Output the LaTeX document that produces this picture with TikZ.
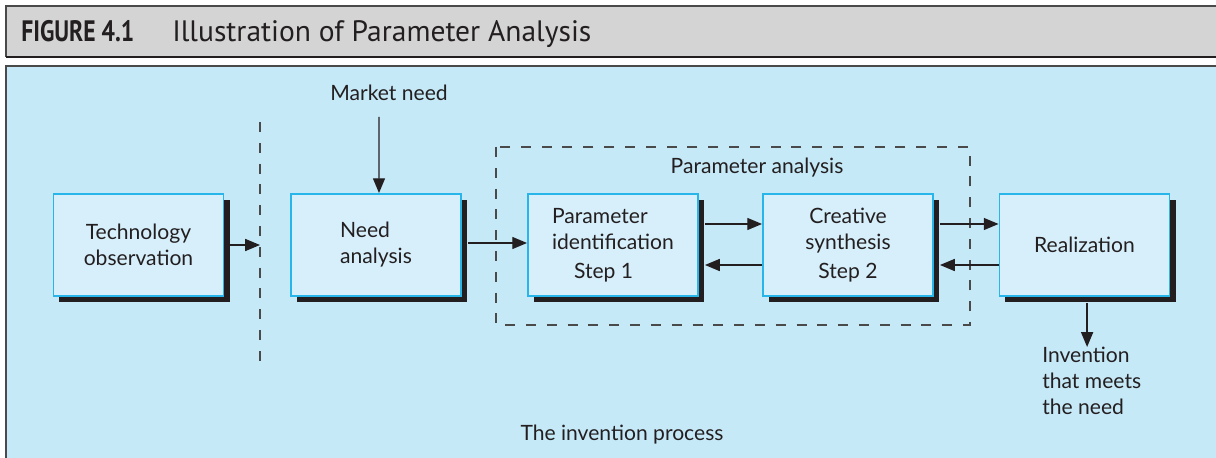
\documentclass[tikz,border=0pt]{standalone}
\usepackage{fontspec}
\setmainfont{Lato}
\newfontfamily\titlefont{PT Sans}
\usepackage{tikz}
\usetikzlibrary{arrows.meta,shadows}

\definecolor{panelblue}{HTML}{C6E9F8}
\definecolor{boxfill}{HTML}{D6EFFB}
\definecolor{boxedge}{HTML}{27B5EA}
\definecolor{titlegrey}{HTML}{D4D4D4}
\definecolor{ink}{HTML}{231F20}
\definecolor{rule}{HTML}{4A4A4A}

\tikzset{
  procbox/.style={draw=boxedge, line width=1.3pt, fill=boxfill,
    minimum width=4.25cm, minimum height=2.55cm, inner sep=0pt,
    drop shadow={shadow xshift=0.15cm, shadow yshift=-0.15cm, fill=ink, opacity=1}},
  txt/.style={text=ink, font=\fontsize{15}{18.5}\selectfont},
  arr/.style={ink, line width=1pt, -{Triangle[length=0.37cm, width=0.3cm]}},
  divide/.style={rule, line width=0.9pt, dash pattern=on 0.25cm off 0.27cm}
}

\begin{document}
\begin{tikzpicture}[x=0.025cm, y=-0.025cm]
      \useasboundingbox (0,0) rectangle (1216,458);
      % title bar
      \fill[titlegrey] (6,6) rectangle (1216,57);
      \draw[rule, line width=0.8pt] (1216,6) -- (6,6) -- (6,57);
      \draw[ink, line width=1.4pt] (6,57) -- (1216,57);
      \node[anchor=base west, inner sep=0pt, text=ink, font=\titlefont\fontsize{21}{24}\selectfont\bfseries] (fignum) at (21,42) {\scalebox{0.8}[1]{FIGURE 4.1}};
      \node[anchor=base west, inner sep=0pt, text=ink, font=\titlefont\fontsize{21}{24}\selectfont] (figtitle) at (172,42) {Illustration of Parameter Analysis};
      % panel
      \fill[panelblue] (6,66) rectangle (1216,458);
      \draw[rule, line width=1.4pt] (1216,66) -- (6,66) -- (6,458);

      % boxes
      \node[procbox, txt, align=center] (techobs) at (138.5,245) {Technology\\observation};
      \node[procbox, txt, align=left] (needana) at (376,245) {Need\\analysis};
      \node[procbox, txt, align=left] (paramid) at (613,245) {Parameter\\identification\\[2pt]\hspace*{0.55cm}Step 1};
      \node[procbox, txt, align=center] (creasyn) at (848,245) {Creative\\synthesis\\[2pt]Step 2};
      \node[procbox, txt] (realiz) at (1084.5,245) {Realization};

      % dividers
      \coordinate (divtop) at (260,122);
      \coordinate (divbot) at (260,368);
      \draw[divide] (divtop) -- (divbot);
      \draw[divide] (496,147) rectangle (970,325);
      \node[txt] (paranalysis) at (757,168) {Parameter analysis};

      % labels
      \node[txt] (market) at (389,93) {Market need};
      \node[txt, anchor=north west, align=left, inner sep=0pt] (inventn) at (1042,347) {Invention\\that meets\\the need};
      \node[txt] (process) at (622,435) {The invention process};

      % connectors
      \draw[arr] (market.south -| needana.north) ++(3,11) -- ([xshift=0.075cm]needana.north);
      \draw[arr] ([xshift=0.15cm]techobs.east) -- (techobs.east -| divtop);
      \draw[arr] ([xshift=0.15cm,yshift=0.05cm]needana.east) -- ([yshift=0.05cm]paramid.west);
      \draw[arr] ([xshift=0.15cm,yshift=0.525cm]paramid.east) -- ([yshift=0.525cm]creasyn.west);
      \draw[arr] ([yshift=-0.5cm]creasyn.west) -- ([xshift=0.15cm,yshift=-0.5cm]paramid.east);
      \draw[arr] ([xshift=0.15cm,yshift=0.525cm]creasyn.east) -- ([yshift=0.525cm]realiz.west);
      \draw[arr] ([yshift=-0.5cm]realiz.west) -- ([xshift=0.15cm,yshift=-0.5cm]creasyn.east);
      \draw[arr] ([xshift=0.065cm,yshift=-0.15cm]realiz.south) -- ([xshift=0.065cm]inventn.north -| realiz.south);
\end{tikzpicture}
\end{document}
